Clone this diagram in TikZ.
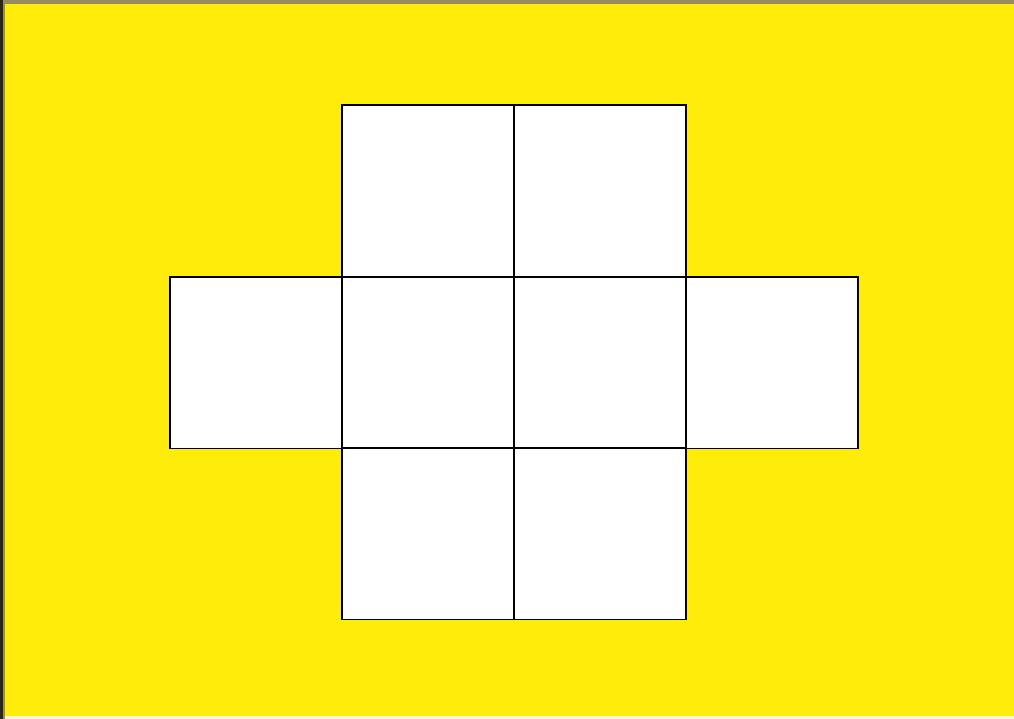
\documentclass[tikz,border=0pt]{standalone}
\definecolor{bgyellow}{RGB}{255,236,10}
\definecolor{topgray}{RGB}{150,140,95}
\definecolor{leftdark}{RGB}{40,40,30}
\definecolor{botwhite}{RGB}{245,245,225}
\begin{document}
\begin{tikzpicture}[x=1pt,y=-1pt,
  cell/.style={draw=black,fill=white,line width=1.8pt,minimum width=172pt,minimum height=171.5pt,inner sep=0pt,outer sep=0pt,anchor=north west}]
\useasboundingbox (0,0) rectangle (1014,719);
\fill[bgyellow] (0,0) rectangle (1014,719);
\fill[topgray] (0,0) rectangle (1014,4);
\fill[leftdark] (0,0) rectangle (3,719);
\fill[topgray] (3,0) rectangle (5,719);
\fill[botwhite] (5,716) rectangle (1014,719);
% top row
\node[cell] (t1) at (342,105) {};
\node[cell] (t2) at (514,105) {};
% middle row
\node[cell] (m0) at (170,277) {};
\node[cell] (m1) at (342,277) {};
\node[cell] (m2) at (514,277) {};
\node[cell] (m3) at (686,277) {};
% bottom row
\node[cell] (b1) at (342,448) {};
\node[cell] (b2) at (514,448) {};
\end{tikzpicture}
\end{document}
